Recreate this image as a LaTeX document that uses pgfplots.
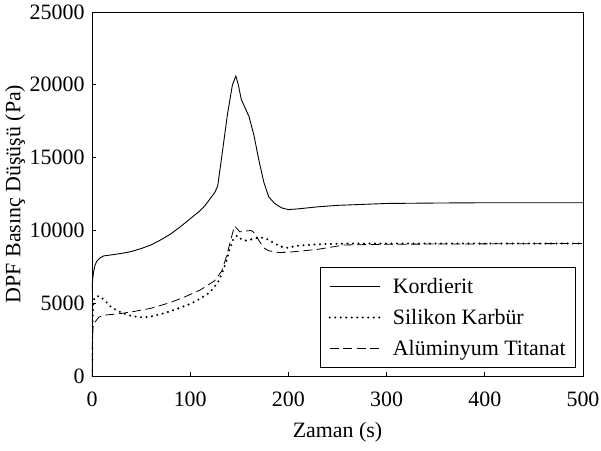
\documentclass[border=0pt]{standalone}
\usepackage{fontspec}
\setmainfont{Liberation Serif}
\usepackage{pgfplots}
\pgfplotsset{compat=1.18}
\usepackage{pgfplotstable}

\pgfplotstableread{
x y
0 5800
0.5 6500
1.5 7100
3 7600
5 7900
8 8100
12 8250
20 8320
30 8420
40 8550
50 8750
60 9000
70 9350
80 9750
90 10250
100 10800
110 11350
115 11700
120 12150
125 12600
128 13050
132 15000
138 18000
143 20000
146.5 20600
149 20000
152 19000
156 18400
160 17800
165 16500
170 14800
175 13300
180 12300
186 11850
193 11550
200 11430
210 11480
230 11620
250 11720
300 11850
350 11880
400 11900
500 11900
}\kordierit

\pgfplotstableread{
x y
0 0
0.3 3000
1 4800
2.5 5400
7 5500
12 5250
20 4700
30 4350
40 4120
50 4030
60 4080
70 4250
80 4450
90 4700
100 4950
110 5300
120 5750
128 6400
132 7000
136 7700
140 8700
144 9400
148 9650
152 9400
156 9300
162 9380
168 9480
175 9500
180 9350
186 9100
192 8900
198 8800
210 8950
230 9050
260 9100
300 9100
500 9100
}\silikon

\pgfplotstableread{
x y
0 0
0.3 2000
1 3300
3 3700
7 4050
15 4200
26 4260
40 4400
60 4650
80 5050
95 5450
110 5900
125 6550
132 7200
136 8000
140 9000
145 10300
148 10100
150.5 9900
156 9950
162 10000
166 9800
170 9300
175 8800
180 8600
190 8480
200 8500
230 8700
257 9000
300 9050
500 9100
}\titanat

\begin{document}
\begin{tikzpicture}
\begin{axis}[
  scale only axis,
  width=491bp, height=364bp,
  xmin=0, xmax=500, ymin=0, ymax=25000,
  xtick={0,100,...,500},
  ytick={0,5000,...,25000},
  scaled y ticks=false,
  /pgf/number format/1000 sep={},
  /pgf/number format/assume math mode=true,
  tick align=inside,
  xtick pos=bottom, ytick pos=left,
  major tick length=4bp,
  axis line style={line width=0.8bp},
  tick style={line width=0.8bp, black},
  font=\fontsize{22}{25}\selectfont,
  xticklabel style={yshift=-12bp},
  yticklabel style={xshift=-4bp},
  xlabel={Zaman (s)},
  ylabel={DPF Basınç Düşüşü (Pa)},
  xlabel style={at={(axis description cs:0.5,0)}, anchor=center, yshift=-56bp},
  ylabel style={at={(axis description cs:0,0.5)}, anchor=center, yshift=77bp},
  legend style={at={(axis description cs:1,0)}, anchor=south east, xshift=-7bp, yshift=8bp,
    draw=black, line width=0.8bp, inner xsep=8bp, inner ysep=9bp, row sep=10bp,
    font=\fontsize{22}{25}\selectfont},
  legend cell align=left,
  legend image code/.code={\draw[#1] (0bp,0bp) -- (50bp,0bp); \path (60bp,0bp);},
]
\addplot[black, line width=0.9bp] table[x=x,y=y] {\kordierit};
\addlegendentry{Kordierit}
\addplot[black, line width=2.3bp, line cap=round, dash pattern=on 0bp off 5.5bp] table[x=x,y=y] {\silikon};
\addlegendentry{Silikon Karbür}
\addplot[black, line width=0.8bp, dash pattern=on 9bp off 4.5bp] table[x=x,y=y] {\titanat};
\addlegendentry{Alüminyum Titanat}
\end{axis}
\pgfresetboundingbox
\path[use as bounding box] ([shift={(-92bp,-74bp)}]current axis.south west) rectangle ([shift={(18bp,12bp)}]current axis.north east);
\end{tikzpicture}
\end{document}
